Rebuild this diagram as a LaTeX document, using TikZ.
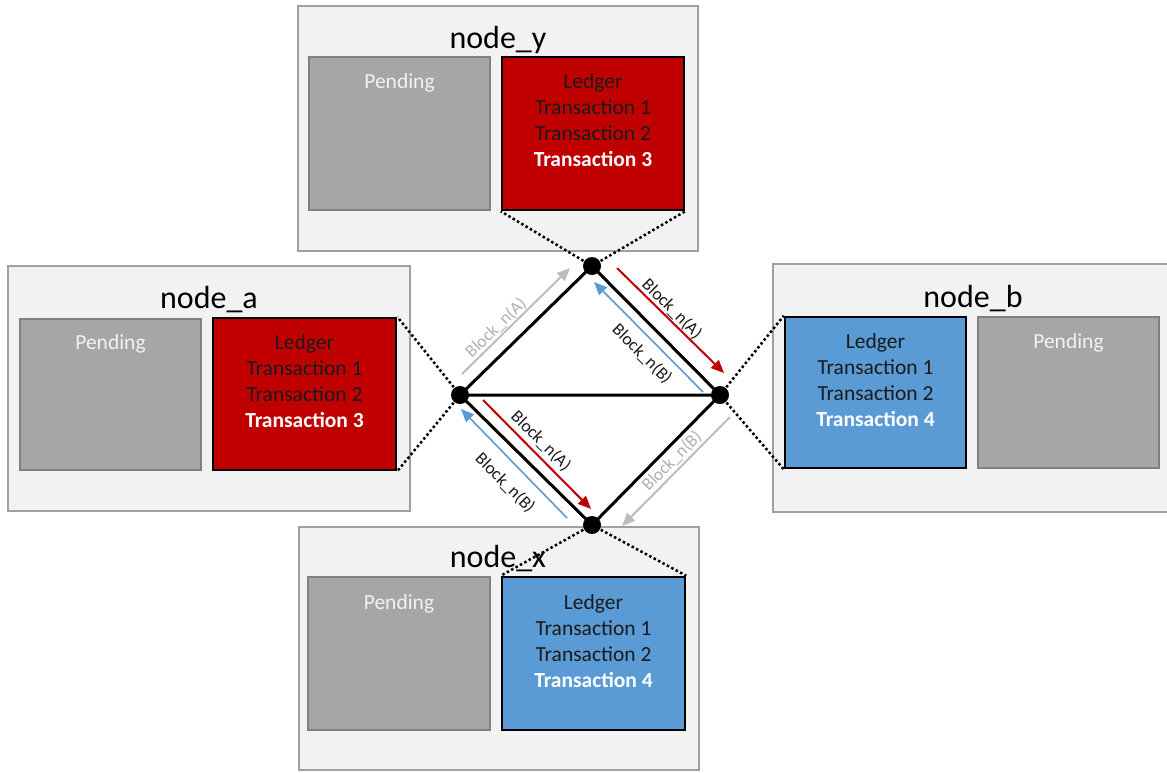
\documentclass[tikz,border=0pt]{standalone}
\usepackage{fontspec}
\setmainfont{Carlito}
\usetikzlibrary{arrows.meta,calc}
\definecolor{outerfill}{HTML}{F2F2F2}
\definecolor{outerdraw}{HTML}{A0A0A0}
\definecolor{pendfill}{HTML}{A6A6A6}
\definecolor{penddraw}{HTML}{808080}
\definecolor{ledred}{HTML}{C00000}
\definecolor{ledblue}{HTML}{5B9BD5}
\definecolor{arrgray}{HTML}{BDBDBD}
\definecolor{lblgray}{HTML}{B0B0B0}
\definecolor{txtdark}{HTML}{1A1A1A}
\tikzset{
  outerbox/.style={draw=outerdraw, fill=outerfill, line width=2pt},
  pendbox/.style={draw=penddraw, fill=pendfill, line width=2.5pt},
  ledbox/.style={draw=black, line width=2.5pt},
  boxtext/.style={anchor=north, align=center, inner sep=0pt, font=\fontsize{21.5}{26}\selectfont},
  titletext/.style={anchor=base, inner sep=0pt, font=\fontsize{32}{36}\selectfont},
  dotline/.style={line width=2.5pt, dash pattern=on 2.5pt off 2.5pt},
  edge/.style={line width=3pt, black},
  peer/.style={circle, fill=black, minimum size=18pt, inner sep=0pt},
  arr/.style={line width=2pt, -{Triangle[length=13pt,width=11pt]}},
  blocklbl/.style={inner sep=0pt, font=\fontsize{17.5}{20}\selectfont}
}
\begin{document}
\begin{tikzpicture}[x=1pt,y=-1pt]
\clip (0,0) rectangle (1167,772);
\fill[white] (0,0) rectangle (1167,772);

% ---------- node_y ----------
\draw[outerbox] (298,6) rectangle (698,251);
\node[titletext] (ty) at (498,48) {node\_y};
\draw[pendbox] (309,57) rectangle (490,210);
\node[boxtext, text=outerfill] (py) at (399.5,73) {Pending};
\node[ledbox, fill=ledred, minimum width=182pt, minimum height=153pt, inner sep=0pt] (ly) at (593,133.5) {};
\node[boxtext, text=txtdark] (lyt) at (593,73) {Ledger\\Transaction 1\\Transaction 2\\\textcolor{white}{\textbf{Transaction 3}}};

% ---------- node_a ----------
\draw[outerbox] (8,266) rectangle (410,511);
\node[titletext] (ta) at (209,308) {node\_a};
\draw[pendbox] (20,319) rectangle (201,470);
\node[boxtext, text=outerfill] (pa) at (110.5,334) {Pending};
\node[ledbox, fill=ledred, minimum width=183pt, minimum height=152pt, inner sep=0pt] (la) at (304.5,394) {};
\node[boxtext, text=txtdark] (lat) at (304.5,334) {Ledger\\Transaction 1\\Transaction 2\\\textcolor{white}{\textbf{Transaction 3}}};

% ---------- node_b ----------
\draw[outerbox] (773,264) rectangle (1175,512);
\node[titletext] (tb) at (973,307) {node\_b};
\node[ledbox, fill=ledblue, minimum width=181pt, minimum height=151pt, inner sep=0pt] (lb) at (875.5,392.5) {};
\node[boxtext, text=txtdark] (lbt) at (875.5,333) {Ledger\\Transaction 1\\Transaction 2\\\textcolor{white}{\textbf{Transaction 4}}};
\draw[pendbox] (978,317) rectangle (1159,468);
\node[boxtext, text=outerfill] (pb) at (1068.5,333) {Pending};

% ---------- node_x ----------
\draw[outerbox] (299,527) rectangle (699,770);
\node[titletext] (tx) at (498,567) {node\_x};
\draw[pendbox] (308,577) rectangle (490,730);
\node[boxtext, text=outerfill] (px) at (399,594) {Pending};
\node[ledbox, fill=ledblue, minimum width=183pt, minimum height=153pt, inner sep=0pt] (lx) at (593.5,653.5) {};
\node[boxtext, text=txtdark] (lxt) at (593.5,594) {Ledger\\Transaction 1\\Transaction 2\\\textcolor{white}{\textbf{Transaction 4}}};

% ---------- peers ----------
\coordinate (T) at (592,266);
\coordinate (L) at (460,395);
\coordinate (R) at (720,395);
\coordinate (B) at (592,525);

% dotted links
\draw[dotline] (T) -- (ly.south west);
\draw[dotline] (T) -- (ly.south east);
\draw[dotline] (L) -- (la.north east);
\draw[dotline] (L) -- (la.south east);
\draw[dotline] (R) -- (lb.north west);
\draw[dotline] (R) -- (lb.south west);
\draw[dotline] (B) -- (lx.north west);
\draw[dotline] (B) -- (lx.north east);

% diamond edges
\draw[edge] (L) -- (T) -- (R) -- (B) -- (L) -- (R);

\node[peer] (pT) at (T) {};
\node[peer] (pL) at (L) {};
\node[peer] (pR) at (R) {};
\node[peer] (pB) at (B) {};

% arrows
\coordinate (g1s) at (462,374);
\coordinate (g1e) at (570,268);
\coordinate (r1s) at (617,268);
\coordinate (r1e) at (724,373);
\coordinate (b1s) at (703,392);
\coordinate (b1e) at (594,282);
\coordinate (r2s) at (483,400);
\coordinate (r2e) at (591,509);
\coordinate (b2s) at (567,518);
\coordinate (b2e) at (461,409);
\coordinate (g2s) at (730,417);
\coordinate (g2e) at (622,526);

\draw[arr, arrgray] (g1s) -- (g1e);
\draw[arr, ledred] (r1s) -- (r1e);
\draw[arr, ledblue, line width=1.6pt] (b1s) -- (b1e);
\draw[arr, ledred] (r2s) -- (r2e);
\draw[arr, ledblue, line width=1.6pt] (b2s) -- (b2e);
\draw[arr, arrgray] (g2s) -- (g2e);

% labels
\node[blocklbl, text=lblgray, rotate=44] (lg1) at (496,328) {Block\_n(A)};
\node[blocklbl, text=txtdark, rotate=-45] (lr1) at (672,309) {Block\_n(A)};
\node[blocklbl, text=txtdark, rotate=-45] (lb1) at (642,354) {Block\_n(B)};
\node[blocklbl, text=txtdark, rotate=-45] (lr2) at (541,441) {Block\_n(A)};
\node[blocklbl, text=txtdark, rotate=-45] (lb2) at (505,483) {Block\_n(B)};
\node[blocklbl, text=lblgray, rotate=45] (lg2) at (672,461) {Block\_n(B)};
\end{tikzpicture}
\end{document}
